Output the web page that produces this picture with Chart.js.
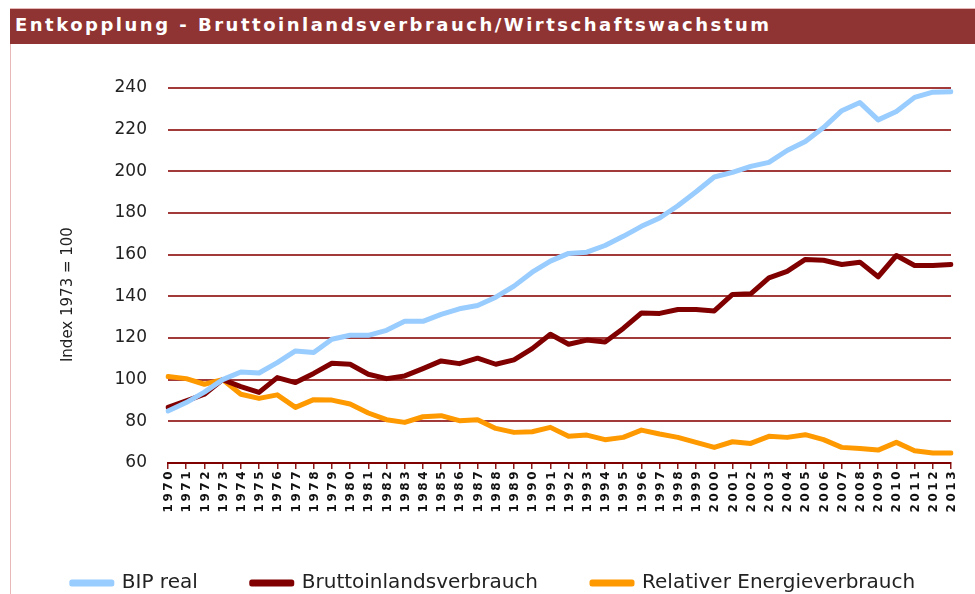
<!DOCTYPE html>
<html>
<head>
<meta charset="utf-8">
<script src="https://cdn.jsdelivr.net/npm/chart.js@4.4.1/dist/chart.umd.min.js"></script>
<style>
    html, body { margin: 0; padding: 0; background: #fff; overflow: hidden; }
    #frame { position: absolute; left: 10px; top: 8px; width: 975px; height: 600px; border-left: 1px solid #e6b8b8; border-top: 1px solid #e6b8b8; }
    #titlebar { position: absolute; left: 10px; top: 9px; width: 975px; height: 35px; background: #8f3333; }
    #titlebar span { position: absolute; left: 5px; top: 5px; color: #fff; font-family: "DejaVu Sans"; font-weight: bold; font-size: 18px; letter-spacing: 2.5px; white-space: nowrap; }
    #chart { position: absolute; left: 0; top: 0; }
</style>
</head>
<body>
<div id="frame"></div>
<div id="titlebar"><span>Entkopplung - Bruttoinlandsverbrauch/Wirtschaftswachstum</span></div>
<canvas id="chart" width="975" height="603"></canvas>
<script>
const years = ['1970', '1971', '1972', '1973', '1974', '1975', '1976', '1977', '1978', '1979',
    '1980', '1981', '1982', '1983', '1984', '1985', '1986', '1987', '1988', '1989',
    '1990', '1991', '1992', '1993', '1994', '1995', '1996', '1997', '1998', '1999',
    '2000', '2001', '2002', '2003', '2004', '2005', '2006', '2007', '2008', '2009',
    '2010', '2011', '2012', '2013'];

const bipReal = [85, 89, 94, 100, 103.7, 103.2, 108.2, 113.8, 113, 119.4,
    121.3, 121.3, 123.7, 128, 128, 131.3, 134, 135.6, 139.6, 144.9,
    151.6, 156.9, 160.6, 161.2, 164.4, 168.8, 173.6, 177.6, 183.5, 190.2,
    197.3, 199.5, 202.4, 204.3, 210, 214.3, 221, 229.1, 233, 224.7,
    228.7, 235.5, 238, 238.2];

const bruttoinlandsverbrauch = [86.7, 89.8, 93, 100, 96.7, 93.9, 101, 98.6, 103, 107.9,
    107.4, 102.6, 100.5, 101.8, 105.3, 109, 107.7, 110.3, 107.4, 109.5,
    114.9, 121.8, 117, 119, 118.1, 124.6, 132, 131.8, 133.7, 133.7,
    133, 140.9, 141.2, 148.9, 152, 157.7, 157.3, 155.3, 156.4, 149.4,
    159.6, 154.8, 154.8, 155.3];

const relativerEnergieverbrauch = [101.5, 100.5, 97.8, 100, 93, 91, 92.7, 86.7, 90.4, 90.2,
    88.3, 84, 80.8, 79.5, 82.2, 82.7, 80.3, 80.8, 76.6, 74.7,
    75, 77.1, 72.8, 73.4, 71.2, 72.3, 75.8, 73.9, 72.3, 69.9,
    67.5, 70.2, 69.4, 72.8, 72.3, 73.6, 71.2, 67.5, 67, 66.2,
    69.9, 65.9, 64.8, 64.8];

// trailing no-break spaces push the rotated title a bit lower, as in the original
const yTitle = 'Index 1973 = 100\u00a0\u00a0\u00a0\u00a0\u00a0\u00a0\u00a0\u00a0';
const yMin = 60;
const yMax = 240;
const yStep = 20;

function lineSet(label, data, color) {
    return {
        label: label,
        data: data,
        borderColor: color,
        backgroundColor: color,
        borderWidth: 5,
        borderJoinStyle: 'round',
        borderCapStyle: 'round',
        pointRadius: 0,
        tension: 0
    };
}

// the year labels stand upright (read bottom to top) under each tick
const verticalYears = {
    id: 'verticalYears',
    afterDraw(chart) {
        const scale = chart.scales.x;
        const ctx = chart.ctx;
        ctx.save();
        ctx.font = 'bold 12px "DejaVu Sans"';
        ctx.fillStyle = '#111';
        ctx.textAlign = 'right';
        ctx.textBaseline = 'middle';
        if ('letterSpacing' in ctx) ctx.letterSpacing = '2.5px';
        scale.ticks.forEach((tick, i) => {
            const x = scale.getPixelForTick(i);
            ctx.save();
            ctx.translate(x + 1, scale.top + 6);
            ctx.rotate(-Math.PI / 2);
            ctx.fillText(scale.getLabelForValue(tick.value), 0, 0);
            ctx.restore();
        });
        ctx.restore();
    }
};

new Chart(document.getElementById('chart'), {
    type: 'line',
    data: {
        labels: years,
        datasets: [
            lineSet('BIP real', bipReal, '#99ccff'),
            lineSet('Bruttoinlandsverbrauch', bruttoinlandsverbrauch, '#800000'),
            lineSet('Relativer Energieverbrauch', relativerEnergieverbrauch, '#ff9900')
        ]
    },
    options: {
        responsive: false,
        animation: false,
        devicePixelRatio: 1,
        layout: { padding: { top: 88, left: 12, right: 0, bottom: 0 } },
        plugins: {
            tooltip: { enabled: false },
            legend: {
                position: 'bottom',
                labels: {
                    boxWidth: 40,
                    boxHeight: 2,
                    padding: 54,
                    color: '#222',
                    font: { family: 'DejaVu Sans', size: 20 }
                }
            }
        },
        scales: {
            x: {
                offset: false,
                afterFit: (scale) => { scale.height = 56; },
                grid: { drawOnChartArea: false, drawTicks: true, tickLength: 6, color: '#8b1a1a', lineWidth: 1.5 },
                border: { display: true, color: '#800000', width: 2 },
                ticks: { display: false, autoSkip: false }
            },
            y: {
                min: yMin,
                max: yMax,
                afterFit: (scale) => { scale.width = 156; },
                grid: { color: '#a33a3a', lineWidth: 2, drawTicks: false },
                border: { display: false },
                ticks: {
                    stepSize: yStep,
                    padding: 21,
                    color: '#222',
                    font: { family: 'DejaVu Sans', size: 17 }
                },
                title: {
                    display: true,
                    text: yTitle,
                    color: '#222',
                    padding: { top: 47, bottom: 0 },
                    font: { family: 'DejaVu Sans', size: 15 }
                }
            },
            // empty right-hand axis, only keeps room right of the plot
            yRight: {
                position: 'right',
                afterFit: (scale) => { scale.width = 24; },
                grid: { display: false },
                border: { display: false },
                ticks: { display: false }
            }
        }
    },
    plugins: [verticalYears]
});
</script>
</body>
</html>
